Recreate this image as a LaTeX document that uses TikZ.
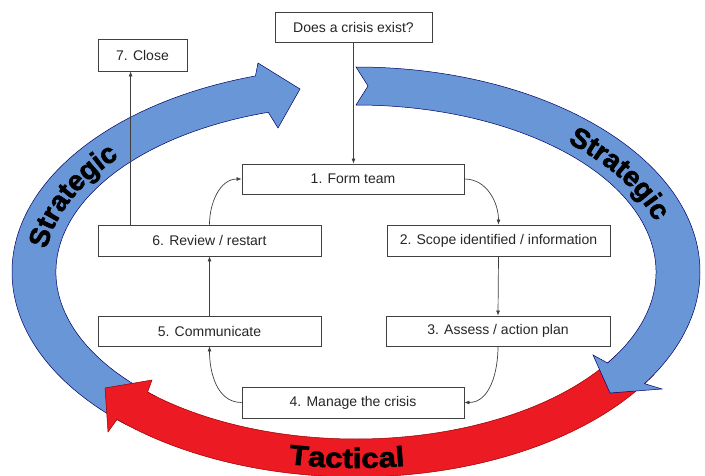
\documentclass[tikz,border=0pt]{standalone}
\usepackage{fontspec}
\setmainfont{Liberation Sans}
\newfontfamily\heavy[FakeBold=2]{Liberation Sans}
\newfontfamily\heavywide[FakeStretch=1.12,FakeBold=2]{Liberation Sans}
\usetikzlibrary{arrows.meta,decorations.text}
\definecolor{arcblue}{RGB}{104,150,214}
\definecolor{arcred}{RGB}{236,26,34}
\newcommand\stratfont{\heavy\bfseries\fontsize{28}{28}\selectfont}
\newcommand\tactfont{\heavywide\bfseries\fontsize{28}{28}\selectfont}
\begin{document}
\begin{tikzpicture}[x=1pt,y=1pt,
  box/.style={draw=black!75, line width=0.8pt, fill=white, font=\fontsize{14}{16}\selectfont, text=black!85, inner sep=0pt},
  conn/.style={draw=black!75, line width=0.7pt, -{Latex[length=5pt,width=4pt]}},
  bluearc/.style={fill=arcblue, draw=black!60!blue, line width=0.5pt},
  redarc/.style={fill=arcred, draw=black!40!red, line width=0.5pt},
  strattext/.style={decorate, decoration={text along path, text align=center, text={|\stratfont|#1}}},
  tacttext/.style={decorate, decoration={text along path, text align=center, text={|\tactfont|#1}}}]
\useasboundingbox (0,0) rectangle (705,475);
\begin{scope}[shift={(356,203)}]
  % left strategic arc
  \path[bluearc] (228:344 and 205) arc[start angle=228,end angle=107,x radius=344,y radius=205]
    -- (-98,209) -- (-56,183) -- (-78,144)
    -- (107:300 and 167) arc[start angle=107,end angle=228,x radius=300,y radius=167] -- cycle;
  % tactical arc
  \path[redarc] (-30:344 and 205) arc[start angle=-30,end angle=-134,x radius=344,y radius=205]
    -- (-248,-160) -- (-251,-116) -- (-204,-108)
    -- (-134:300 and 167) arc[start angle=-134,end angle=-30,x radius=300,y radius=167] -- cycle;
  % right strategic arc
  \path[bluearc] (90:344 and 205) arc[start angle=90,end angle=-33,x radius=344,y radius=205]
    -- (306,-117) -- (254,-121) -- (237,-83)
    -- (-33:300 and 167) arc[start angle=-33,end angle=90,x radius=300,y radius=167]
    -- (12,186) -- cycle;
  % texts
  \path[strattext=Strategic] (175.6:312 and 176) arc[start angle=175.6,end angle=137.2,x radius=312,y radius=176];
  \path[strattext=Strategic] (49.4:312 and 176) arc[start angle=49.4,end angle=13.6,x radius=312,y radius=176];
  \path[tacttext=Tactical] (-126:332 and 196) arc[start angle=-126,end angle=-57.6,x radius=332,y radius=196];
\end{scope}

\node[box, minimum width=157pt, minimum height=30pt] (crisis) at (353.5,448) {Does a crisis exist?};
\node[box, minimum width=89pt, minimum height=32pt] (close) at (142.5,420) {7. Close};
\node[box, minimum width=222pt, minimum height=30pt] (form) at (353,296) {1. Form team};
\node[box, minimum width=223pt, minimum height=31pt] (review) at (209.5,234.5) {6. Review / restart};
\node[box, minimum width=223pt, minimum height=31pt] (scope) at (498.5,234.5) {2. Scope identified / information};
\node[box, minimum width=223pt, minimum height=30pt] (comm) at (209.5,144) {5. Communicate};
\node[box, minimum width=224pt, minimum height=30pt] (assess) at (498,144) {3. Assess / action plan};
\node[box, minimum width=222pt, minimum height=31pt] (manage) at (353,72.5) {4. Manage the crisis};

\draw[conn] (crisis.south) -- (crisis.south |- form.north);
\draw[conn] ([xshift=33pt]review.north west) -- ([xshift=33pt]review.north west |- close.south);
\draw[conn] (review.north) to[out=90,in=180] (form.west);
\draw[conn] (form.east) to[out=0,in=90] (scope.north);
\draw[conn] (scope.south) -- (assess.north);
\draw[conn] (assess.south) to[out=-90,in=0] (manage.east);
\draw[conn] (manage.west) to[out=180,in=-90] (comm.south);
\draw[conn] (comm.north) -- (review.south);
\end{tikzpicture}
\end{document}
